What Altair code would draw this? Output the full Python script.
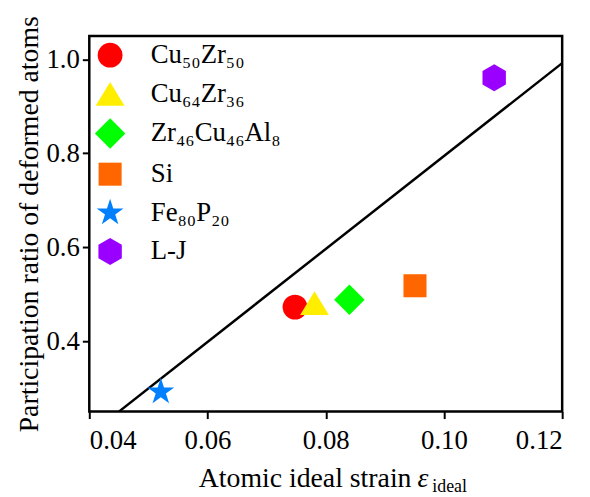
import altair as alt
import pandas as pd

# ---- data ----
names = ["Cu₅₀Zr₅₀", "Cu₆₄Zr₃₆", "Zr₄₆Cu₄₆Al₈", "Si", "Fe₈₀P₂₀", "L-J"]
strain = [0.0748, 0.0781, 0.0840, 0.0951, 0.0521, 0.1085]
ratio = [0.4725, 0.481, 0.488, 0.518, 0.292, 0.961]
colors = ["#ff0000", "#ffee00", "#00ff00", "#ff6600", "#0080ff", "#9900ff"]
shapes = [
    "circle",
    "M0,-0.96L1.16,0.96L-1.16,0.96Z",
    "M0,-1.23L1.23,0L0,1.23L-1.23,0Z",
    "M-0.93,-0.93L0.93,-0.93L0.93,0.93L-0.93,0.93Z",
    "M0,-1.136L0.255,-0.351L1.080,-0.351L0.413,0.134L0.668,0.919L0,0.434"
    "L-0.668,0.919L-0.413,0.134L-1.080,-0.351L-0.255,-0.351Z",
    "M0,-1.09L0.944,-0.545L0.944,0.545L0,1.09L-0.944,0.545L-0.944,-0.545Z",
]
fit_x = [0.045, 0.12]
fit_y = [0.25, 0.992]
x_ticks = [0.04, 0.06, 0.08, 0.10, 0.12]
y_ticks = [0.4, 0.6, 0.8, 1.0]

FONT = "Liberation Serif"

pts = pd.DataFrame({"name": names, "strain": strain, "ratio": ratio})
fit = pd.DataFrame({"strain": fit_x, "ratio": fit_y})
one = pd.DataFrame({"k": [0]})

xscale = alt.Scale(domain=[0.04, 0.12], nice=False, zero=False)
yscale = alt.Scale(domain=[0.25, 1.05], nice=False, zero=False)

xaxis = alt.Axis(values=x_ticks, format=".2f", title=None, labelPadding=9)
yaxis = alt.Axis(values=y_ticks, format=".1f", title="Participation ratio of deformed atoms",
                 labelPadding=3, titlePadding=2)

line = alt.Chart(fit).mark_line(color="black", strokeWidth=2.5, clip=True).encode(
    x=alt.X("strain:Q", scale=xscale, axis=xaxis),
    y=alt.Y("ratio:Q", scale=yscale, axis=yaxis),
)

points = alt.Chart(pts).mark_point(filled=True, size=625, opacity=1, strokeWidth=0).encode(
    x=alt.X("strain:Q", scale=xscale, axis=xaxis),
    y=alt.Y("ratio:Q", scale=yscale, axis=yaxis),
    color=alt.Color("name:N", scale=alt.Scale(domain=names, range=colors),
                    sort=names, legend=alt.Legend(title=None)),
    shape=alt.Shape("name:N", scale=alt.Scale(domain=names, range=shapes),
                    sort=names, legend=alt.Legend(title=None)),
    order=alt.Order("strain:Q", sort="ascending"),
)

t1 = alt.Chart(one).mark_text(font=FONT, fontSize=28, align="right", baseline="alphabetic",
                              color="black").encode(
    x=alt.value(325), y=alt.value(455), text=alt.value("Atomic ideal strain"))
t2 = alt.Chart(one).mark_text(font=FONT, fontSize=28, fontStyle="italic", align="left",
                              baseline="alphabetic", color="black").encode(
    x=alt.value(331), y=alt.value(455), text=alt.value("ε"))
t3 = alt.Chart(one).mark_text(font=FONT, fontSize=18, align="left", baseline="alphabetic",
                              color="black").encode(
    x=alt.value(346), y=alt.value(460), text=alt.value("ideal"))

chart = alt.layer(line, points, t1, t2, t3).properties(
    width=477, height=379,
    autosize=alt.AutoSizeParams(type="none"),
    padding={"left": 82, "top": 26, "right": 20, "bottom": 84},
).configure_view(stroke="black", strokeWidth=2.5).configure_axis(
    grid=False, domain=False, tickColor="black", tickWidth=2, tickSize=7,
    labelFont=FONT, labelFontSize=27, labelColor="black",
    titleFont=FONT, titleFontSize=28, titleFontWeight="normal", titleColor="black",
).configure_text(font=FONT).configure_legend(
    orient="none", legendX=7.5, legendY=6, padding=0,
    symbolSize=625, symbolStrokeWidth=0, symbolOpacity=1,
    labelFont=FONT, labelFontSize=27, labelColor="black", labelOffset=27.5,
    rowPadding=11, labelLimit=400,
)

chart.save("out.html", embed_options={"renderer": "svg", "actions": False})
